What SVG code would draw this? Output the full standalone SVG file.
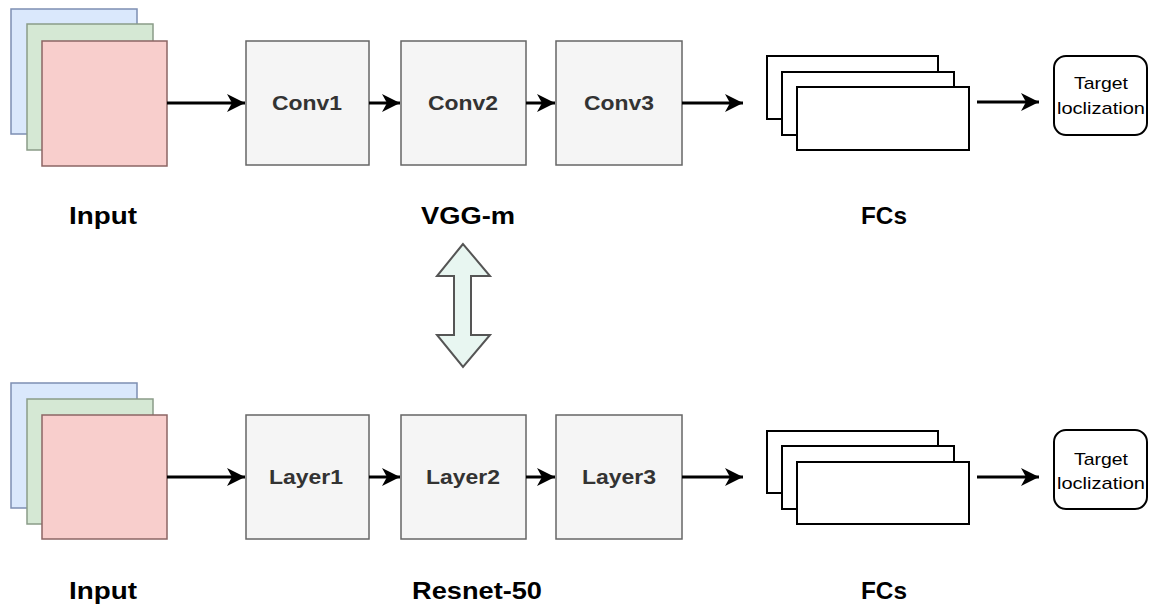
<svg xmlns="http://www.w3.org/2000/svg" width="1153" height="606" viewBox="0 0 1153 606">
<style>
.bg{fill:#ffffff}
.blue{fill:#dae8fc;stroke:#7d8fb3;stroke-width:1.5}
.green{fill:#d5e8d4;stroke:#8a9c88;stroke-width:1.5}
.red{fill:#f8cecc;stroke:#8c6664;stroke-width:1.5}
.box{fill:#f5f5f5;stroke:#666666;stroke-width:1.5}
.fc{fill:#ffffff;stroke:#000000;stroke-width:2}
.tgt{fill:#ffffff;stroke:#000000;stroke-width:2}
.conn{stroke:#000000;stroke-width:3;fill:none}
.lbl{font-family:"Liberation Sans",Arial,sans-serif;font-weight:bold;font-size:24px;fill:#000000;text-anchor:middle}
.btxt{font-family:"Liberation Sans",Arial,sans-serif;font-weight:bold;font-size:20px;fill:#333333;text-anchor:middle}
.ttxt{font-family:"Liberation Sans",Arial,sans-serif;font-size:17px;fill:#000000;text-anchor:middle}
</style>
<defs>
<marker id="arr" markerUnits="userSpaceOnUse" markerWidth="20" markerHeight="20" viewBox="0 0 20 20" refX="19" refY="10" orient="auto">
<path d="M1,1 L19,10 L1,19 L6,10 Z" fill="#000000"/>
</marker>
</defs>
<rect class="bg" x="0" y="0" width="1153" height="606"/>

<g id="input-top">
<rect class="blue" x="11" y="9" width="126" height="125"/>
<rect class="green" x="27" y="24" width="126" height="126"/>
<rect class="red" x="42" y="41" width="125" height="125"/>
</g>
<g id="conv1"><rect class="box" x="246" y="41" width="123" height="124"/><text class="btxt" x="307" y="110" textLength="70" lengthAdjust="spacingAndGlyphs">Conv1</text></g>
<g id="conv2"><rect class="box" x="401" y="41" width="125" height="124"/><text class="btxt" x="463" y="110" textLength="70" lengthAdjust="spacingAndGlyphs">Conv2</text></g>
<g id="conv3"><rect class="box" x="556" y="41" width="126" height="124"/><text class="btxt" x="619" y="110" textLength="70" lengthAdjust="spacingAndGlyphs">Conv3</text></g>
<g id="fcs-top">
<rect class="fc" x="767" y="56" width="171" height="63"/>
<rect class="fc" x="782" y="72" width="172" height="63"/>
<rect class="fc" x="797" y="87" width="172" height="63"/>
</g>
<g id="target-top"><rect class="tgt" x="1054" y="56" width="93" height="79" rx="12"/>
<text class="ttxt" x="1101" y="89" textLength="54" lengthAdjust="spacingAndGlyphs">Target</text>
<text class="ttxt" x="1101" y="114" textLength="88" lengthAdjust="spacingAndGlyphs">loclization</text></g>

<g id="input-bottom">
<rect class="blue" x="11" y="383" width="126" height="125"/>
<rect class="green" x="27" y="399" width="126" height="125"/>
<rect class="red" x="42" y="415" width="125" height="124"/>
</g>
<g id="layer1"><rect class="box" x="246" y="415" width="123" height="124"/><text class="btxt" x="306" y="484" textLength="74" lengthAdjust="spacingAndGlyphs">Layer1</text></g>
<g id="layer2"><rect class="box" x="401" y="415" width="125" height="124"/><text class="btxt" x="463" y="484" textLength="74" lengthAdjust="spacingAndGlyphs">Layer2</text></g>
<g id="layer3"><rect class="box" x="556" y="415" width="126" height="124"/><text class="btxt" x="619" y="484" textLength="74" lengthAdjust="spacingAndGlyphs">Layer3</text></g>
<g id="fcs-bottom">
<rect class="fc" x="767" y="431" width="171" height="62"/>
<rect class="fc" x="782" y="446" width="172" height="63"/>
<rect class="fc" x="797" y="462" width="172" height="62"/>
</g>
<g id="target-bottom"><rect class="tgt" x="1054" y="430" width="93" height="79" rx="12"/>
<text class="ttxt" x="1101" y="465" textLength="54" lengthAdjust="spacingAndGlyphs">Target</text>
<text class="ttxt" x="1101" y="489" textLength="88" lengthAdjust="spacingAndGlyphs">loclization</text></g>

<g id="labels">
<text class="lbl" x="103" y="224" textLength="68" lengthAdjust="spacingAndGlyphs">Input</text>
<text class="lbl" x="468" y="224" textLength="94" lengthAdjust="spacingAndGlyphs">VGG-m</text>
<text class="lbl" x="884" y="224" textLength="46" lengthAdjust="spacingAndGlyphs">FCs</text>
<text class="lbl" x="103" y="599" textLength="68" lengthAdjust="spacingAndGlyphs">Input</text>
<text class="lbl" x="477" y="599" textLength="130" lengthAdjust="spacingAndGlyphs">Resnet-50</text>
<text class="lbl" x="884" y="599" textLength="46" lengthAdjust="spacingAndGlyphs">FCs</text>
</g>

<g id="swap-arrow">
<polygon points="463,244 437,276 454,276 454,335 437,335 463,367 490,335 471,335 471,276 490,276" fill="#e8f6f1" stroke="#555555" stroke-width="2" stroke-linejoin="miter"/>
</g>

<g id="connectors">
<line class="conn" x1="167" y1="103" x2="245" y2="103" marker-end="url(#arr)"/>
<line class="conn" x1="369" y1="103" x2="400" y2="103" marker-end="url(#arr)"/>
<line class="conn" x1="526" y1="103" x2="555" y2="103" marker-end="url(#arr)"/>
<line class="conn" x1="682" y1="103" x2="743" y2="103" marker-end="url(#arr)"/>
<line class="conn" x1="977" y1="102" x2="1039" y2="102" marker-end="url(#arr)"/>
<line class="conn" x1="167" y1="477" x2="245" y2="477" marker-end="url(#arr)"/>
<line class="conn" x1="369" y1="477" x2="400" y2="477" marker-end="url(#arr)"/>
<line class="conn" x1="526" y1="477" x2="555" y2="477" marker-end="url(#arr)"/>
<line class="conn" x1="682" y1="477" x2="743" y2="477" marker-end="url(#arr)"/>
<line class="conn" x1="977" y1="477" x2="1039" y2="477" marker-end="url(#arr)"/>
</g>
</svg>
